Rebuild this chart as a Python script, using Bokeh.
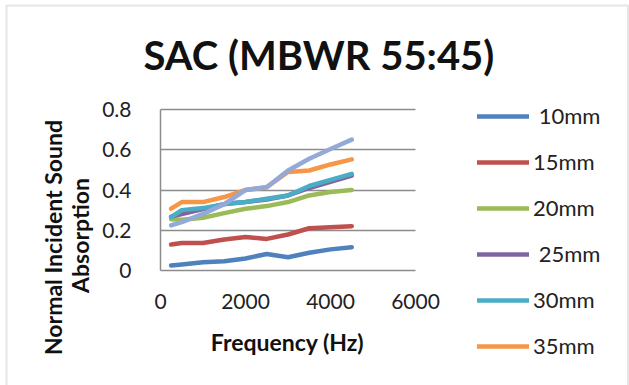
import numpy as np
from bokeh.plotting import figure
from bokeh.models import Label, Legend, LegendItem, FixedTicker, BoxAnnotation
from bokeh.embed import file_html
from bokeh.resources import INLINE

freq = [250, 500, 1000, 1500, 2000, 2500, 3000, 3500, 4000, 4500]
s10 = [0.025, 0.030, 0.041, 0.046, 0.060, 0.082, 0.066, 0.088, 0.105, 0.116]
s15 = [0.129, 0.137, 0.137, 0.154, 0.166, 0.157, 0.179, 0.210, 0.215, 0.220]
s20 = [0.255, 0.252, 0.262, 0.285, 0.307, 0.320, 0.340, 0.373, 0.390, 0.400]
s25 = [0.268, 0.281, 0.305, 0.330, 0.340, 0.353, 0.373, 0.410, 0.440, 0.472]
s30 = [0.265, 0.300, 0.310, 0.330, 0.340, 0.357, 0.373, 0.420, 0.450, 0.480]
s35 = [0.307, 0.340, 0.340, 0.365, 0.400, 0.414, 0.490, 0.497, 0.527, 0.552]
s40 = [0.224, 0.240, 0.281, 0.330, 0.400, 0.414, 0.497, 0.555, 0.604, 0.650]

series_names = [" 10mm", "15mm", "20mm", " 25mm", "30mm", "35mm", "40mm"]
series_values = [s10, s15, s20, s25, s30, s35, s40]
colors = ["#4F81BD", "#C0504D", "#9BBB59", "#8064A2", "#4BACC6", "#F79646", "#93A9D8"]

y_ticks = [0, 0.2, 0.4, 0.6, 0.8]
y_tick_labels = ["0", "0.2", "0.4", "0.6", "0.8"]
x_ticks = [0, 2000, 4000, 6000]
x_tick_labels = ["0", "2000", "4000", "6000"]
x_lim = (0, 6000)
y_lim = (0, 0.8)

FONT = "Lato"
W, H = 629, 385
# plot-area pixel box inside the canvas
PL, PR, PT, PB = 160, 415, 109, 270

# ranges so that the axis limits land on the plot-area box while the frame fills the canvas
xs = (x_lim[1] - x_lim[0]) / (PR - PL)
ys = (y_lim[1] - y_lim[0]) / (PB - PT)
x_range = (x_lim[0] - PL * xs, x_lim[1] + (W - PR) * xs)
y_range = (y_lim[0] - (H - PB) * ys, y_lim[1] + PT * ys)

p = figure(width=W, height=H, output_backend="svg", toolbar_location=None,
           x_range=x_range, y_range=y_range, min_border=0, title=None)
p.outline_line_color = None
p.background_fill_color = "white"
p.border_fill_color = "white"

p.xgrid.grid_line_color = None
p.ygrid.grid_line_color = "#8c8c8c"
p.ygrid.grid_line_width = 1.5
p.ygrid.ticker = FixedTicker(ticks=y_ticks[1:])
try:
    p.ygrid.cross_bounds = x_lim
except Exception:
    pass
p.yaxis.ticker = FixedTicker(ticks=y_ticks)
p.xaxis.ticker = FixedTicker(ticks=x_ticks)
p.yaxis.major_label_overrides = dict(zip(y_ticks, y_tick_labels))
p.xaxis.major_label_overrides = dict(zip(x_ticks, x_tick_labels))
p.xaxis.fixed_location = y_lim[0]
p.yaxis.fixed_location = x_lim[0]
p.xaxis.bounds = x_lim
p.yaxis.bounds = y_lim
for ax in (p.xaxis, p.yaxis):
    ax.axis_line_color = "#8c8c8c"
    ax.axis_line_width = 1.5
    ax.major_tick_line_color = None
    ax.minor_tick_line_color = None
    ax.major_label_text_font = FONT
    ax.major_label_text_font_size = "21px"
    ax.major_label_text_color = "#222222"
p.yaxis.major_label_standoff = 23
p.xaxis.major_label_standoff = 17


def sx(px):
    return px


def sy(py):
    return H - py


renderers = []
for name, vals, c in zip(series_names, series_values, colors):
    r = p.line(freq, vals, line_color=c, line_width=4.5, line_join="round", line_cap="round")
    renderers.append(r)

items = [LegendItem(label=n, renderers=[r]) for n, r in zip(series_names[:6], renderers[:6])]
legend = Legend(items=items, location=(477, sy(359)), padding=0, margin=0,
                border_line_color=None, background_fill_alpha=0,
                glyph_width=52, glyph_height=26, label_height=26, spacing=19,
                label_standoff=4, label_text_font=FONT, label_text_font_size="22px",
                label_text_color="#222222")
p.add_layout(legend)

p.add_layout(Label(x=sx(143), y=sy(54), x_units="screen", y_units="screen", text="SAC (MBWR 55:45)",
                   text_font=FONT, text_font_style="bold", text_font_size="40px",
                   text_align="left", text_baseline="middle", text_color="#111111"))
p.add_layout(Label(x=sx(287), y=sy(341), x_units="screen", y_units="screen", text="Frequency (Hz)",
                   text_font=FONT, text_font_style="bold", text_font_size="23px",
                   text_align="center", text_baseline="middle", text_color="#111111"))
p.add_layout(Label(x=sx(52), y=sy(237), x_units="screen", y_units="screen", text="Normal Incident Sound",
                   angle=np.pi / 2, text_font=FONT, text_font_style="bold", text_font_size="23px",
                   text_align="center", text_baseline="middle", text_color="#111111"))
p.add_layout(Label(x=sx(79), y=sy(235), x_units="screen", y_units="screen", text="Absorption",
                   angle=np.pi / 2, text_font=FONT, text_font_style="bold", text_font_size="23px",
                   text_align="center", text_baseline="middle", text_color="#111111"))
p.add_layout(BoxAnnotation(left=sx(6), right=sx(627.5), top=sy(5), bottom=sy(400),
                           left_units="screen", right_units="screen", top_units="screen", bottom_units="screen",
                           fill_alpha=0, line_color="#a8a8a8", line_width=2))

open("out.html", "w").write(file_html(p, INLINE))
